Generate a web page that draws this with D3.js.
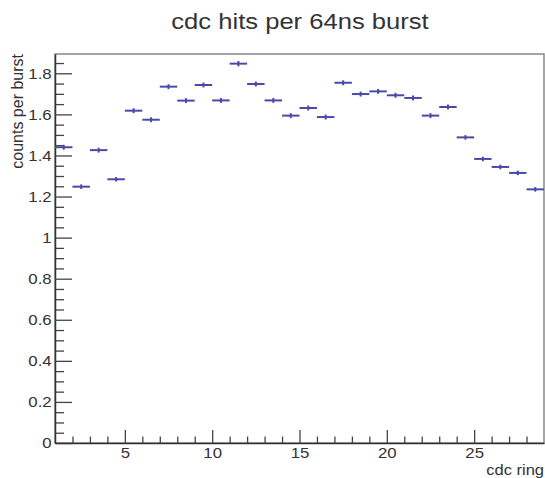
<!DOCTYPE html>
<html>
<head>
<meta charset="utf-8">
<script src="https://cdn.jsdelivr.net/npm/d3@7"></script>
<style>
  body { margin: 0; background: #fff; }
  text { font-family: "Liberation Sans", Arial, sans-serif; fill: #333; }
</style>
</head>
<body>
<svg id="chart"></svg>
<script>
// frame, ROOT style
const width = 545;
const height = 478;
const margin = { top: 54, right: 1, bottom: 35, left: 55 };

// cdc ring bins (lower edges, width 1) and counts per burst
const rings = [1, 2, 3, 4, 5, 6, 7, 8, 9, 10, 11, 12, 13, 14,
               15, 16, 17, 18, 19, 20, 21, 22, 23, 24, 25, 26, 27, 28];
const counts = [1.440, 1.248, 1.426, 1.284, 1.618, 1.574, 1.735, 1.667,
                1.743, 1.668, 1.847, 1.748, 1.668, 1.594, 1.631, 1.587,
                1.754, 1.699, 1.712, 1.693, 1.680, 1.594, 1.636, 1.488,
                1.383, 1.344, 1.315, 1.235];
const errors = [0.012, 0.011, 0.012, 0.011, 0.012, 0.012, 0.012, 0.012,
                0.012, 0.012, 0.013, 0.012, 0.012, 0.012, 0.012, 0.012,
                0.012, 0.012, 0.012, 0.012, 0.012, 0.012, 0.012, 0.011,
                0.011, 0.011, 0.011, 0.011];

// tick labels
const xTicks = [5, 10, 15, 20, 25];
const xMinor = [2, 3, 4, 6, 7, 8, 9, 11, 12, 13, 14, 16, 17, 18, 19,
                21, 22, 23, 24, 26, 27, 28];
const yTicks = [0, 0.2, 0.4, 0.6, 0.8, 1, 1.2, 1.4, 1.6, 1.8];
const yMinor = [0.05, 0.1, 0.15, 0.25, 0.3, 0.35, 0.45, 0.5, 0.55, 0.65,
                0.7, 0.75, 0.85, 0.9, 0.95, 1.05, 1.1, 1.15, 1.25, 1.3,
                1.35, 1.45, 1.5, 1.55, 1.65, 1.7, 1.75, 1.85];

const markColor = "#4a4aa6";

const svg = d3.select("#chart")
  .attr("width", width)
  .attr("height", height);

const x = d3.scaleLinear()
  .domain([1, 29])
  .range([margin.left, width - margin.right]);

const y = d3.scaleLinear()
  .domain([0, 1.894])
  .range([height - margin.bottom, margin.top]);

// frame (top and right sides)
svg.append("rect")
  .attr("x", margin.left)
  .attr("y", margin.top)
  .attr("width", width - margin.right - margin.left)
  .attr("height", height - margin.bottom - margin.top)
  .attr("fill", "none")
  .attr("stroke", "#888")
  .attr("stroke-width", 1.5);

// y axis: major + minor ticks pointing inward
svg.append("g")
  .attr("transform", "translate(" + margin.left + ",0)")
  .call(d3.axisLeft(y).tickValues(yMinor).tickSize(-9).tickFormat(""))
  .call(g => g.select(".domain").remove());

svg.append("g")
  .attr("class", "y-axis")
  .attr("transform", "translate(" + margin.left + ",0)")
  .call(d3.axisLeft(y).tickValues(yTicks).tickSize(-17).tickPadding(3)
    .tickSizeOuter(0).tickFormat(d3.format("~g")));

// x axis
svg.append("g")
  .attr("transform", "translate(0," + (height - margin.bottom) + ")")
  .call(d3.axisBottom(x).tickValues(xMinor).tickSize(-6.5).tickFormat(""))
  .call(g => g.select(".domain").remove());

svg.append("g")
  .attr("class", "x-axis")
  .attr("transform", "translate(0," + (height - margin.bottom) + ")")
  .call(d3.axisBottom(x).tickValues(xTicks).tickSize(-13).tickPadding(4)
    .tickSizeOuter(0));

svg.selectAll(".tick line").attr("stroke", "#444").attr("stroke-width", 1.3);
svg.selectAll(".domain").attr("stroke", "#333").attr("stroke-width", 1.5);
// the picture's text is a bit wide, so stretch labels horizontally
svg.selectAll(".y-axis text, .x-axis text")
  .style("font-size", "15px")
  .attr("fill", "#333")
  .attr("transform", "scale(1.12,1)");

// histogram points with error bars
const pts = svg.append("g")
  .selectAll("g")
  .data(rings.map((r, i) => ({ lo: r, v: counts[i], e: errors[i] })))
  .enter()
  .append("g");

pts.append("line")
  .attr("x1", d => x(d.lo))
  .attr("x2", d => x(d.lo + 1))
  .attr("y1", d => y(d.v))
  .attr("y2", d => y(d.v))
  .attr("stroke", markColor)
  .attr("stroke-width", 2);

pts.append("line")
  .attr("x1", d => x(d.lo + 0.5))
  .attr("x2", d => x(d.lo + 0.5))
  .attr("y1", d => y(d.v - d.e))
  .attr("y2", d => y(d.v + d.e))
  .attr("stroke", markColor)
  .attr("stroke-width", 2);

// titles
svg.append("text")
  .attr("transform", "translate(300,29) scale(1.19,1)")
  .attr("text-anchor", "middle")
  .style("font-size", "21.5px")
  .attr("fill", "#222")
  .text("cdc hits per 64ns burst");

svg.append("text")
  .attr("transform", "translate(" + (width - margin.right) + ",475) scale(1.1,1)")
  .attr("text-anchor", "end")
  .style("font-size", "15px")
  .text("cdc ring");

svg.append("text")
  .attr("transform", "translate(23," + margin.top + ") rotate(-90)")
  .attr("text-anchor", "end")
  .style("font-size", "16px")
  .text("counts per burst");
</script>
</body>
</html>
